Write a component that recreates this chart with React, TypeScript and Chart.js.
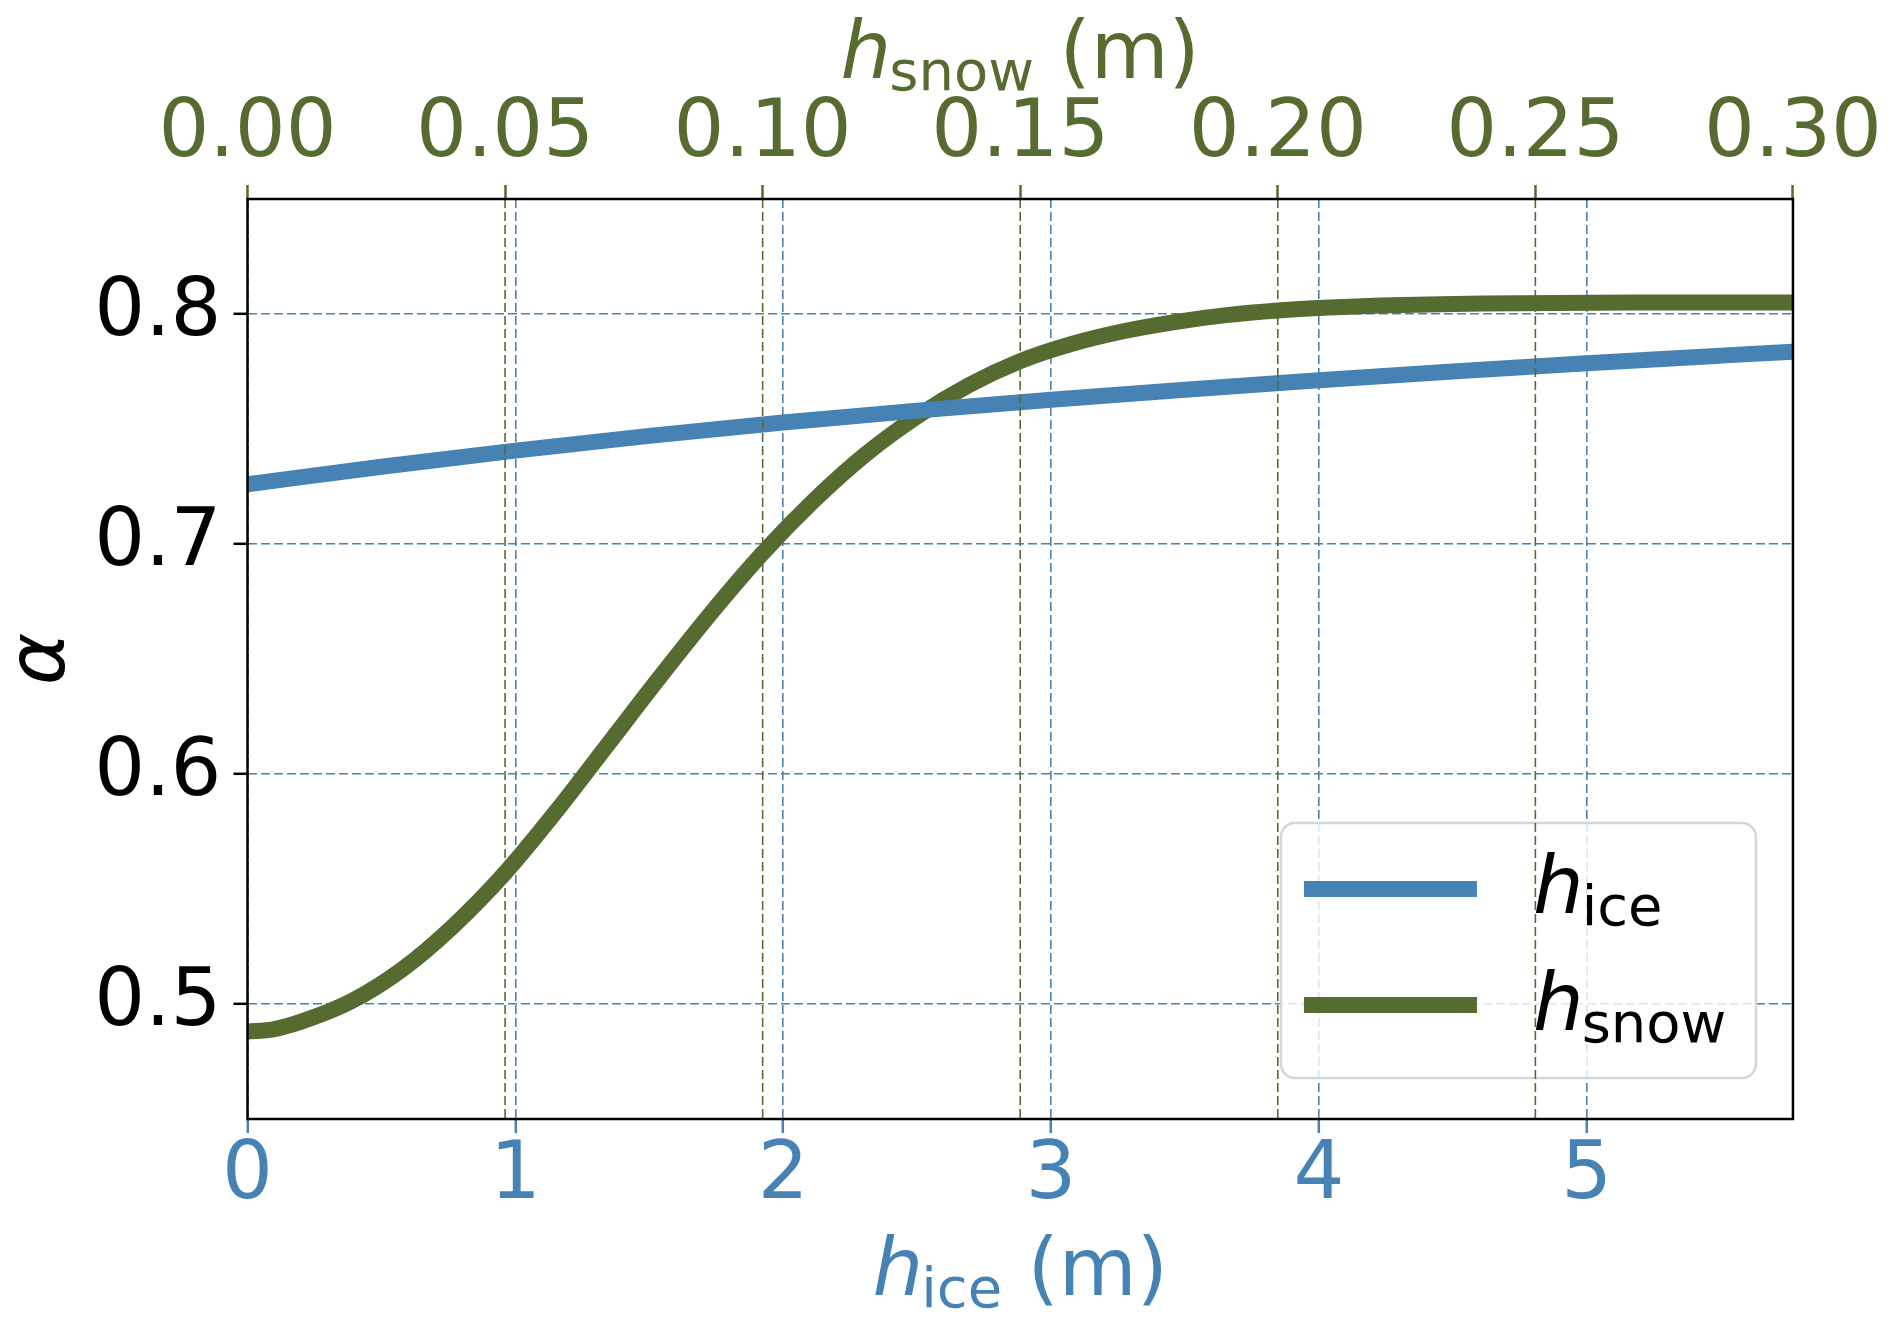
import React, { useEffect, useRef } from 'react';
import Chart from 'chart.js/auto';

// h_ice (m) -> albedo
const iceDepth = [0, 0.5, 1, 1.5, 2, 2.5, 3, 3.5, 4, 4.5, 5, 5.5, 5.77];
const iceAlbedo = [0.726, 0.7336, 0.7406, 0.747, 0.7528, 0.758, 0.7627, 0.7671, 0.7712, 0.775, 0.7786, 0.7819, 0.7836];

// h_snow (m) -> albedo
const snowDepth = [0, 0.005, 0.01, 0.02, 0.03, 0.04, 0.05, 0.06, 0.07, 0.08, 0.09, 0.1, 0.11, 0.12, 0.13, 0.14, 0.15, 0.16, 0.17, 0.18, 0.19, 0.2, 0.21, 0.22, 0.24, 0.27, 0.3];
const snowAlbedo = [0.488, 0.489, 0.492, 0.501, 0.515, 0.534, 0.557, 0.584, 0.613, 0.642, 0.67, 0.696, 0.719, 0.739, 0.7555, 0.769, 0.7795, 0.787, 0.7925, 0.7965, 0.7995, 0.8015, 0.8028, 0.8037, 0.8046, 0.805, 0.805];

const iceTicks = [0, 1, 2, 3, 4, 5];
const snowTicks = [0, 0.05, 0.1, 0.15, 0.2, 0.25, 0.3];
const albedoTicks = [0.5, 0.6, 0.7, 0.8];

const ICE = '#4682b4';
const SNOW = '#556b2f';
const FONT = '"DejaVu Sans", sans-serif';
const DASH = [9, 4];
const LINE_W = 16;

// italic h with an upright subscript, then an optional upright tail
const drawMath = (
  ctx: CanvasRenderingContext2D,
  x: number,
  y: number,
  sub: string,
  tail: string,
  color: string,
  centered: boolean
) => {
  ctx.save();
  ctx.fillStyle = color;
  ctx.textBaseline = 'alphabetic';
  ctx.textAlign = 'left';
  ctx.font = `italic 80px ${FONT}`;
  const wh = ctx.measureText('h').width - 2;
  ctx.font = `56px ${FONT}`;
  const ws = ctx.measureText(sub).width;
  ctx.font = `80px ${FONT}`;
  const wt = tail ? ctx.measureText(tail).width : 0;
  let sx = centered ? x - (wh + ws + wt) / 2 : x;
  ctx.font = `italic 80px ${FONT}`;
  ctx.fillText('h', sx, y);
  sx += wh;
  ctx.font = `56px ${FONT}`;
  ctx.fillText(sub, sx, y + 12);
  sx += ws;
  if (tail) {
    ctx.font = `80px ${FONT}`;
    ctx.fillText(tail, sx, y);
  }
  ctx.restore();
};

const overlay = {
  id: 'overlay',
  afterDatasetsDraw(chart: any) {
    const { ctx, chartArea: a, scales } = chart;
    ctx.save();

    // legend box
    const lx = a.right - 512;
    const ly = a.bottom - 296;
    const lw = 475;
    const lh = 255;
    ctx.beginPath();
    ctx.roundRect(lx, ly, lw, lh, 14);
    ctx.fillStyle = 'rgba(255,255,255,0.8)';
    ctx.fill();
    ctx.lineWidth = 2.5;
    ctx.strokeStyle = '#d6d6d6';
    ctx.stroke();

    ctx.lineWidth = LINE_W;
    ctx.lineCap = 'butt';
    ctx.strokeStyle = ICE;
    ctx.beginPath();
    ctx.moveTo(lx + 23, ly + 66);
    ctx.lineTo(lx + 196, ly + 66);
    ctx.stroke();
    ctx.strokeStyle = SNOW;
    ctx.beginPath();
    ctx.moveTo(lx + 23, ly + 182);
    ctx.lineTo(lx + 196, ly + 182);
    ctx.stroke();
    drawMath(ctx, lx + 252, ly + 90, 'ice', '', '#000', false);
    drawMath(ctx, lx + 252, ly + 207, 'snow', '', '#000', false);

    // snow-axis grid lines sit on top of everything
    ctx.beginPath();
    ctx.rect(a.left, a.top, a.right - a.left, a.bottom - a.top);
    ctx.clip();
    ctx.setLineDash(DASH);
    ctx.lineWidth = 1.6;
    ctx.strokeStyle = SNOW;
    snowTicks.forEach((v) => {
      const px = scales.x2.getPixelForValue(v);
      ctx.beginPath();
      ctx.moveTo(px, a.top);
      ctx.lineTo(px, a.bottom);
      ctx.stroke();
    });
    ctx.restore();

    // frame
    ctx.save();
    ctx.lineWidth = 2.5;
    ctx.strokeStyle = '#000';
    ctx.strokeRect(a.left, a.top, a.right - a.left, a.bottom - a.top);
    ctx.restore();
  },
  afterDraw(chart: any) {
    const { ctx, chartArea: a } = chart;
    const cx = (a.left + a.right) / 2;
    drawMath(ctx, cx, 78, 'snow', ' (m)', SNOW, true);
    drawMath(ctx, cx, 1295, 'ice', ' (m)', ICE, true);

    ctx.save();
    ctx.translate(64, (a.top + a.bottom) / 2);
    ctx.rotate(-Math.PI / 2);
    ctx.font = `italic 80px ${FONT}`;
    ctx.fillStyle = '#000';
    ctx.textAlign = 'center';
    ctx.textBaseline = 'alphabetic';
    ctx.fillText('α', 0, 0);
    ctx.restore();
  },
};

const tickFont = { family: FONT, size: 80, lineHeight: 1 };

const App: React.FC = () => {
  const chartRef = useRef<HTMLCanvasElement | null>(null);
  const chartInstance = useRef<Chart | null>(null);

  useEffect(() => {
    if (!chartRef.current) return;
    if (chartInstance.current) chartInstance.current.destroy();

    const config: any = {
      type: 'line',
      data: {
        datasets: [
          {
            label: 'h_ice',
            data: iceDepth.map((x, i) => ({ x, y: iceAlbedo[i] })),
            xAxisID: 'x',
            yAxisID: 'y',
            borderColor: ICE,
            borderWidth: LINE_W,
            pointRadius: 0,
            cubicInterpolationMode: 'monotone',
          },
          {
            label: 'h_snow',
            data: snowDepth.map((x, i) => ({ x, y: snowAlbedo[i] })),
            xAxisID: 'x2',
            yAxisID: 'y',
            borderColor: SNOW,
            borderWidth: LINE_W,
            pointRadius: 0,
            cubicInterpolationMode: 'monotone',
          },
        ],
      },
      options: {
        responsive: false,
        animation: false,
        layout: { padding: { left: 0, right: 99, top: 0, bottom: 0 } },
        plugins: {
          legend: { display: false },
          tooltip: { enabled: false },
        },
        scales: {
          x: {
            type: 'linear',
            position: 'bottom',
            min: 0,
            max: 5.77,
            afterFit: (s: any) => { s.height = 209; },
            afterBuildTicks: (s: any) => { s.ticks = iceTicks.map((value) => ({ value })); },
            grid: {
              color: ICE,
              lineWidth: 1.6,
              tickColor: ICE,
              tickWidth: 2.5,
              tickLength: 14,
              tickBorderDash: [],
            },
            border: { display: false, dash: DASH },
            ticks: {
              color: ICE,
              font: tickFont,
              padding: 4,
              maxRotation: 0,
              callback: (v: number) => String(v),
            },
          },
          x2: {
            type: 'linear',
            position: 'top',
            min: 0,
            max: 0.3,
            afterFit: (s: any) => { s.height = 199; },
            afterBuildTicks: (s: any) => { s.ticks = snowTicks.map((value) => ({ value })); },
            grid: {
              drawOnChartArea: false,
              tickColor: SNOW,
              tickWidth: 2.5,
              tickLength: 14,
              tickBorderDash: [],
            },
            border: { display: false },
            ticks: {
              color: SNOW,
              font: tickFont,
              padding: 10,
              maxRotation: 0,
              callback: (v: number) => v.toFixed(2),
            },
          },
          y: {
            type: 'linear',
            position: 'left',
            min: 0.45,
            max: 0.85,
            afterFit: (s: any) => { s.width = 247.5; },
            afterBuildTicks: (s: any) => { s.ticks = albedoTicks.map((value) => ({ value })); },
            grid: {
              color: ICE,
              lineWidth: 1.6,
              tickColor: '#000',
              tickWidth: 2.5,
              tickLength: 14,
              tickBorderDash: [],
            },
            border: { display: false, dash: DASH },
            ticks: {
              color: '#000',
              font: tickFont,
              padding: 12,
              callback: (v: number) => v.toFixed(1),
            },
          },
        },
      },
      plugins: [overlay],
    };

    const ctx = chartRef.current.getContext('2d');
    if (ctx) chartInstance.current = new Chart(ctx, config);

    return () => {
      if (chartInstance.current) {
        chartInstance.current.destroy();
        chartInstance.current = null;
      }
    };
  }, []);

  return (
    <div style={{ position: 'absolute', left: 0, top: 0, width: 1892, height: 1328, background: '#fff' }}>
      <canvas ref={chartRef} width={1892} height={1328} />
    </div>
  );
};

export default App;
